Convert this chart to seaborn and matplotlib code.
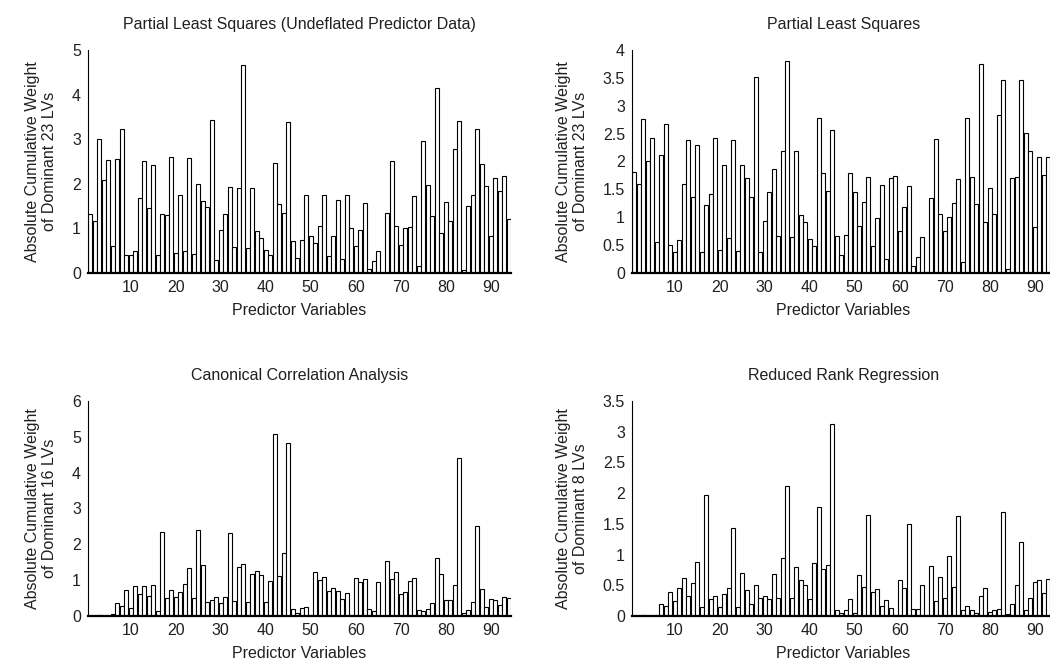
import numpy as np
import pandas as pd
import matplotlib
matplotlib.use("Agg")
import matplotlib.pyplot as plt
import seaborn as sns

# Predictor variable index (1..94)
variables = np.arange(1, 95)

# Absolute cumulative weights per predictor variable for each method
pls_undeflated = [
    1.33, 1.16, 3.01, 2.08, 2.54, 0.60, 2.55, 3.23, 0.41, 0.41,
    0.50, 1.68, 2.51, 1.45, 2.42, 0.40, 1.33, 1.29, 2.60, 0.45,
    1.76, 0.50, 2.58, 0.42, 2.00, 1.62, 1.48, 3.42, 0.30, 0.97,
    1.32, 1.93, 0.59, 1.90, 4.67, 0.56, 1.90, 0.94, 0.79, 0.52,
    0.40, 2.46, 1.55, 1.34, 3.38, 0.72, 0.33, 0.73, 1.75, 0.84,
    0.67, 1.05, 1.76, 0.37, 0.83, 1.64, 0.32, 1.76, 1.00, 0.60,
    0.96, 1.58, 0.09, 0.28, 0.50, 0.01, 1.35, 2.50, 1.05, 0.62,
    1.02, 1.03, 1.73, 0.15, 2.96, 1.97, 1.27, 4.15, 0.90, 1.60,
    1.17, 2.77, 3.41, 0.07, 1.51, 1.76, 3.22, 2.45, 1.96, 0.82,
    2.14, 1.83, 2.17, 1.22,
]

pls = [
    1.81, 1.59, 2.77, 2.00, 2.43, 0.56, 2.11, 2.67, 0.50, 0.38,
    0.60, 1.59, 2.39, 1.36, 2.29, 0.38, 1.22, 1.41, 2.43, 0.42,
    1.94, 0.62, 2.39, 0.39, 1.94, 1.70, 1.36, 3.52, 0.38, 0.93,
    1.45, 1.86, 0.67, 2.19, 3.81, 0.64, 2.18, 1.04, 0.91, 0.61,
    0.49, 2.78, 1.79, 1.47, 2.56, 0.67, 0.32, 0.69, 1.79, 1.46,
    0.84, 1.28, 1.72, 0.48, 0.99, 1.58, 0.26, 1.70, 1.74, 0.76,
    1.18, 1.56, 0.12, 0.28, 0.64, 0.01, 1.35, 2.40, 1.06, 0.75,
    1.01, 1.26, 1.68, 0.20, 2.78, 1.72, 1.23, 3.75, 0.91, 1.53,
    1.06, 2.84, 3.47, 0.08, 1.70, 1.72, 3.46, 2.52, 2.19, 0.82,
    2.08, 1.76, 2.08, 1.50,
]

cca = [
    0.00, 0.01, 0.03, 0.00, 0.00, 0.05, 0.35, 0.29, 0.72, 0.22,
    0.85, 0.61, 0.83, 0.55, 0.87, 0.15, 2.34, 0.50, 0.73, 0.53,
    0.68, 0.89, 1.35, 0.51, 2.41, 1.42, 0.40, 0.46, 0.54, 0.36,
    0.52, 2.33, 0.41, 1.36, 1.46, 0.39, 1.16, 1.25, 1.15, 0.40,
    0.97, 5.09, 1.11, 1.75, 4.82, 0.19, 0.09, 0.21, 0.24, 0.04,
    1.23, 1.00, 1.10, 0.71, 0.79, 0.69, 0.47, 0.65, 0.02, 1.07,
    0.95, 1.03, 0.19, 0.15, 0.95, 0.00, 1.53, 1.03, 1.22, 0.62,
    0.67, 0.99, 1.06, 0.16, 0.14, 0.19, 0.36, 1.62, 1.18, 0.46,
    0.46, 0.86, 4.40, 0.07, 0.17, 0.40, 2.51, 0.76, 0.25, 0.48,
    0.46, 0.32, 0.52, 0.50,
]

rrr = [
    0.00, 0.00, 0.02, 0.00, 0.00, 0.02, 0.19, 0.16, 0.39, 0.24,
    0.46, 0.62, 0.32, 0.53, 0.88, 0.15, 1.97, 0.27, 0.32, 0.15,
    0.36, 0.45, 1.44, 0.15, 0.70, 0.43, 0.19, 0.50, 0.29, 0.33,
    0.28, 0.68, 0.29, 0.94, 2.11, 0.29, 0.79, 0.59, 0.50, 0.27,
    0.87, 1.77, 0.76, 0.83, 3.12, 0.09, 0.05, 0.10, 0.27, 0.05,
    0.66, 0.47, 1.64, 0.39, 0.44, 0.17, 0.26, 0.13, 0.01, 0.58,
    0.45, 1.49, 0.11, 0.11, 0.51, 0.01, 0.81, 0.25, 0.64, 0.29,
    0.97, 0.47, 1.62, 0.09, 0.16, 0.10, 0.05, 0.33, 0.46, 0.07,
    0.10, 0.11, 1.70, 0.03, 0.20, 0.51, 1.21, 0.09, 0.30, 0.56,
    0.59, 0.38, 0.61, 0.50,
]

titles = [
    "Partial Least Squares (Undeflated Predictor Data)",
    "Partial Least Squares",
    "Canonical Correlation Analysis",
    "Reduced Rank Regression",
]
ylabels = [
    "Absolute Cumulative Weight\nof Dominant 23 LVs",
    "Absolute Cumulative Weight\nof Dominant 23 LVs",
    "Absolute Cumulative Weight\nof Dominant 16 LVs",
    "Absolute Cumulative Weight\nof Dominant 8 LVs",
]
ytick_sets = [
    [0, 1, 2, 3, 4, 5],
    [0, 0.5, 1, 1.5, 2, 2.5, 3, 3.5, 4],
    [0, 1, 2, 3, 4, 5, 6],
    [0, 0.5, 1, 1.5, 2, 2.5, 3, 3.5],
]
xtick_values = [10, 20, 30, 40, 50, 60, 70, 80, 90]
xlabel = "Predictor Variables"

sns.set_theme(style="white")
plt.rcParams["font.family"] = ["Liberation Sans", "DejaVu Sans"]
ink = "#231f20"

W, H = 1050, 671
fig = plt.figure(figsize=(W / 100, H / 100), dpi=100)

# axes rectangles in pixels: (left, top, width, bottom)
px_boxes = [
    (88, 50, 423, 273),
    (632, 50, 423, 273),
    (88, 401, 423, 616),
    (632, 401, 423, 616),
]

series = [pls_undeflated, pls, cca, rrr]

for vals, title, ylab, yt, (l, t, w, b) in zip(series, titles, ylabels, ytick_sets, px_boxes):
    ax = fig.add_axes([l / W, (H - b) / H, w / W, (b - t) / H])
    df = pd.DataFrame({"variable": variables, "weight": vals})
    sns.barplot(
        data=df, x="variable", y="weight", native_scale=True, width=0.8,
        color="white", saturation=1, edgecolor="black", linewidth=0.8,
        errorbar=None, ax=ax,
    )
    ax.set_xlim(0.5, 94.5)
    ax.set_ylim(0, yt[-1])
    ax.set_xticks(xtick_values)
    ax.set_xticklabels([str(v) for v in xtick_values])
    ax.set_yticks(yt)
    ax.set_yticklabels([f"{v:g}" for v in yt])
    for side in ("top", "right"):
        ax.spines[side].set_visible(False)
    ax.spines["left"].set_color("black")
    ax.spines["left"].set_linewidth(0.8)
    ax.spines["bottom"].set_color("black")
    ax.spines["bottom"].set_linewidth(1.6)
    ax.tick_params(direction="in", length=3, width=0.8, colors="black",
                   labelsize=11.5, labelcolor=ink, pad=5)
    ax.set_title(title, fontsize=11.5, color=ink, pad=15)
    ax.set_xlabel(xlabel, fontsize=11.5, color=ink, labelpad=6)
    ax.set_ylabel(ylab, fontsize=11.5, color=ink, labelpad=11, linespacing=1.15)
    ax.set_facecolor("white")

fig.savefig("out.png", dpi=100, facecolor="white")
